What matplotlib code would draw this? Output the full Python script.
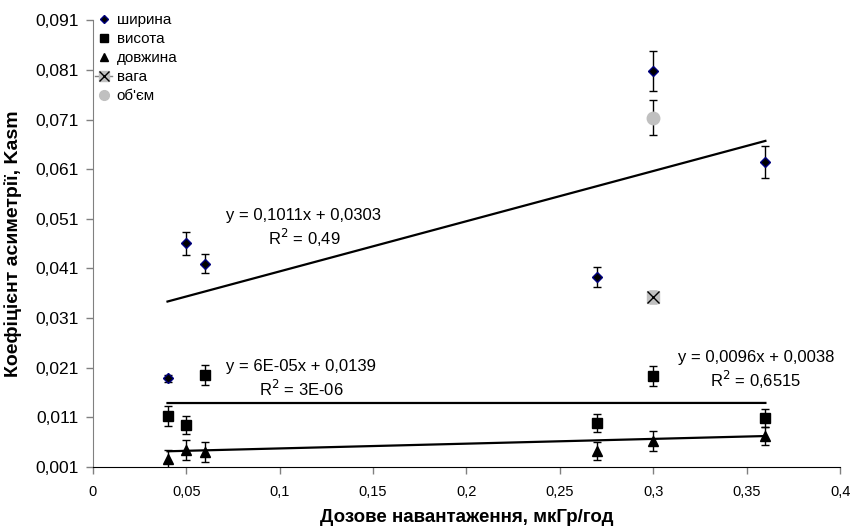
import numpy as np
import matplotlib.pyplot as plt
from matplotlib.lines import Line2D

plt.rcParams['font.family'] = ['Liberation Sans', 'DejaVu Sans']

# dose values
x_all = [0.04, 0.05, 0.06, 0.27, 0.30, 0.36]

width_y = [0.0189, 0.0461, 0.0420, 0.0392, 0.0807, 0.0624]
width_err = [0.0007, 0.0023, 0.0020, 0.0020, 0.0040, 0.0032]

height_y = [0.0113, 0.0095, 0.0195, 0.0099, 0.0193, 0.0109]
height_err = [0.0020, 0.0018, 0.0020, 0.0018, 0.0020, 0.0018]

length_y = [0.0026, 0.0044, 0.0040, 0.0042, 0.0062, 0.0072]
length_err = [0.0018, 0.0020, 0.0020, 0.0018, 0.0020, 0.0018]

weight_x = [0.30]
weight_y = [0.0352]
weight_err = [0.0012]

volume_x = [0.30]
volume_y = [0.0714]
volume_err = [0.0036]

# trend lines (slope, intercept) as printed on the chart
trends = [(0.1011, 0.0303), (0.00006, 0.0139), (0.0096, 0.0038)]
trend_labels = [
    ('y = 0,1011x + 0,0303', 'R$^2$ = 0,49', 0.113, 0.0517),
    ('y = 6E-05x + 0,0139', 'R$^2$ = 3E-06', 0.1115, 0.0213),
    ('y = 0,0096x + 0,0038', 'R$^2$ = 0,6515', 0.355, 0.0231),
]

xticks = [0, 0.05, 0.1, 0.15, 0.2, 0.25, 0.3, 0.35, 0.4]
yticks = [0.001, 0.011, 0.021, 0.031, 0.041, 0.051, 0.061, 0.071, 0.081, 0.091]

fig = plt.figure(figsize=(8.67, 5.32), dpi=100)
ax = fig.add_axes([0.107, 0.122, 0.862, 0.840])

eb = dict(ecolor='black', elinewidth=1, capsize=3, capthick=1, linestyle='none')
ax.errorbar(x_all, width_y, yerr=width_err, marker='D', ms=5, mfc='black',
            mec='#000080', mew=1, zorder=3, **eb)
ax.errorbar(x_all, height_y, yerr=height_err, marker='s', ms=7, mfc='black',
            mec='black', zorder=3, **eb)
ax.errorbar(x_all, length_y, yerr=length_err, marker='^', ms=7, mfc='black',
            mec='black', zorder=3, **eb)
ax.errorbar(weight_x, weight_y, yerr=weight_err, marker='s', ms=9, mfc='#c0c0c0',
            mec='#c0c0c0', zorder=3, **eb)
ax.plot(weight_x, weight_y, marker='x', ms=9, color='black', mew=1, zorder=4,
        linestyle='none')
ax.errorbar(volume_x, volume_y, yerr=volume_err, marker='o', ms=9, mfc='#c0c0c0',
            mec='#c0c0c0', zorder=3, **eb)

handles = [
    Line2D([], [], lw=0, marker='D', ms=4.5, mfc='black', mec='#000080'),
    Line2D([], [], lw=0, marker='s', ms=6, mfc='black', mec='black'),
    Line2D([], [], lw=0, marker='^', ms=6, mfc='black', mec='black'),
    (Line2D([], [], color='#808080', marker='s', ms=7, mfc='#c0c0c0', mec='#c0c0c0', lw=1),
     Line2D([], [], color='black', marker='x', ms=7, lw=0)),
    Line2D([], [], lw=0, marker='o', ms=7, mfc='#c0c0c0', mec='#c0c0c0'),
]
labels = ['ширина', 'висота', 'довжина', 'вага', "об'єм"]
ax.legend(handles, labels, loc='upper left', bbox_to_anchor=(-0.005, 1.03),
          frameon=False, fontsize=11, handlelength=1.1, handletextpad=0.3,
          labelspacing=0.33, borderaxespad=0)

xs = np.array([min(x_all), max(x_all)])
for k, b in trends:
    ax.plot(xs, k * xs + b, color='black', lw=1.6, zorder=2)

for eq, r2, tx, ty in trend_labels:
    ax.text(tx, ty, eq, ha='center', va='center', fontsize=12)
    ax.text(tx, ty - 0.0045, r2, ha='center', va='center', fontsize=12)

ax.set_xlim(0, 0.4)
ax.set_ylim(0.001, 0.091)
ax.set_xticks(xticks)
ax.set_xticklabels([('%g' % v).replace('.', ',') for v in xticks], fontsize=10.5)
ax.set_yticks(yticks)
ax.set_yticklabels([('%.3f' % v).replace('.', ',') for v in yticks], fontsize=12.5)
ax.tick_params(direction='out', length=5, width=1, color='#808080', labelcolor='black')
ax.tick_params(axis='x', pad=8)
ax.tick_params(axis='y', pad=5)

for s in ['top', 'right']:
    ax.spines[s].set_visible(False)
ax.spines['left'].set_color('#808080')
ax.spines['bottom'].set_color('black')

ax.set_xlabel('Дозове навантаження, мкГр/год', fontsize=13.5, fontweight='bold')
ax.set_ylabel('Коефіцієнт асиметрії, Kasm', fontsize=14, fontweight='bold')
ax.xaxis.set_label_coords(0.5, -0.093)
ax.yaxis.set_label_coords(-0.095, 0.5)

fig.savefig('out.png', dpi=100)
